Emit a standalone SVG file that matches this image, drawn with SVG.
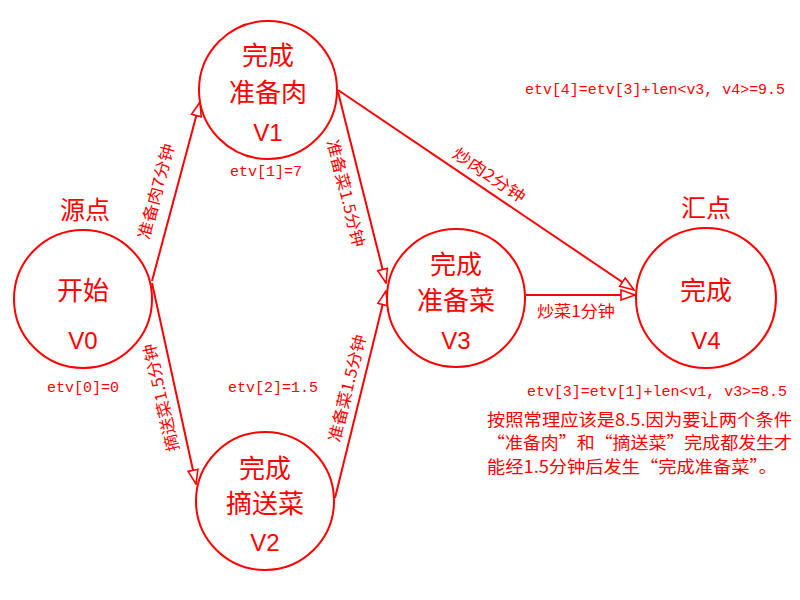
<svg xmlns="http://www.w3.org/2000/svg" width="800" height="600" viewBox="0 0 800 600">
<style>
text{fill:#ff0000;font-family:"Noto Sans CJK SC","Liberation Sans",sans-serif}
.c{fill:#fff;stroke:#ff0000;stroke-width:2}
.n{font-size:26px;text-anchor:middle;dominant-baseline:central}
.v{font-size:24px;text-anchor:middle;dominant-baseline:central;font-family:"Liberation Sans","Noto Sans CJK SC",sans-serif}
.t{font-size:25px;text-anchor:middle;dominant-baseline:central}
.e{font-size:16px;text-anchor:middle;dominant-baseline:central}
.m{font-size:15px;font-family:"Liberation Mono","Noto Sans CJK SC",monospace;dominant-baseline:central}
.p{font-size:17px;dominant-baseline:central}
.l{stroke:#ff0000;stroke-width:2;fill:none}
</style>
<defs>
<marker id="a" markerUnits="userSpaceOnUse" markerWidth="16" markerHeight="12" refX="15" refY="6" orient="auto">
<path d="M1,1 L15,6 L1,11 z" fill="#fff" stroke="#ff0000" stroke-width="1.6"/>
</marker>
</defs>
<g id="edges">
<line class="l" x1="152" y1="281" x2="200" y2="102" marker-end="url(#a)"/>
<line class="l" x1="152" y1="283" x2="196" y2="484" marker-end="url(#a)"/>
<line class="l" x1="338" y1="92" x2="386" y2="283" marker-end="url(#a)"/>
<line class="l" x1="335" y1="498" x2="386" y2="291" marker-end="url(#a)"/>
<line class="l" x1="338" y1="90" x2="634" y2="290" marker-end="url(#a)"/>
<line class="l" x1="526" y1="295" x2="635" y2="295" marker-end="url(#a)"/>
<text class="e" transform="translate(155,191) rotate(-75)" textLength="98" lengthAdjust="spacingAndGlyphs">准备肉7分钟</text>
<text class="e" transform="translate(160,398) rotate(-103)" textLength="110" lengthAdjust="spacingAndGlyphs">摘送菜1.5分钟</text>
<text class="e" transform="translate(347,193) rotate(75.7)" textLength="110" lengthAdjust="spacingAndGlyphs">准备菜1.5分钟</text>
<text class="e" transform="translate(346,388) rotate(-76)" textLength="110" lengthAdjust="spacingAndGlyphs">准备菜1.5分钟</text>
<text class="e" transform="translate(490,174) rotate(34)" textLength="84" lengthAdjust="spacingAndGlyphs">炒肉2分钟</text>
<text class="e" x="576" y="310" textLength="78" lengthAdjust="spacingAndGlyphs">炒菜1分钟</text>
</g>
<g id="V0">
<circle class="c" cx="83" cy="299" r="69"/>
<text class="t" x="85" y="208">源点</text>
<text class="n" x="83" y="288">开始</text>
<text class="v" x="83" y="340">V0</text>
</g>
<g id="V1">
<circle class="c" cx="268" cy="90" r="69"/>
<text class="n" x="268" y="53">完成</text>
<text class="n" x="268" y="90">准备肉</text>
<text class="v" x="268" y="132">V1</text>
</g>
<g id="V2">
<circle class="c" cx="265" cy="501" r="69"/>
<text class="n" x="265" y="466">完成</text>
<text class="n" x="265" y="501">摘送菜</text>
<text class="v" x="265" y="542">V2</text>
</g>
<g id="V3">
<circle class="c" cx="456" cy="298" r="69"/>
<text class="n" x="456" y="262">完成</text>
<text class="n" x="456" y="298">准备菜</text>
<text class="v" x="456" y="340">V3</text>
</g>
<g id="V4">
<circle class="c" cx="706" cy="298" r="70"/>
<text class="t" x="706" y="206">汇点</text>
<text class="n" x="706" y="288">完成</text>
<text class="v" x="706" y="340">V4</text>
</g>
<g id="notes">
<text class="m" x="47" y="388" textLength="72" lengthAdjust="spacingAndGlyphs">etv[0]=0</text>
<text class="m" x="230" y="172" textLength="72" lengthAdjust="spacingAndGlyphs">etv[1]=7</text>
<text class="m" x="228" y="388" textLength="90" lengthAdjust="spacingAndGlyphs">etv[2]=1.5</text>
<text class="m" x="525" y="90" textLength="260" lengthAdjust="spacingAndGlyphs">etv[4]=etv[3]+len&lt;v3, v4&gt;=9.5</text>
<text class="m" x="527" y="392" textLength="260" lengthAdjust="spacingAndGlyphs">etv[3]=etv[1]+len&lt;v1, v3&gt;=8.5</text>
<text class="p" x="487" y="418" textLength="305" lengthAdjust="spacingAndGlyphs">按照常理应该是8.5.因为要让两个条件</text>
<text class="p" x="487" y="441" textLength="305" lengthAdjust="spacingAndGlyphs">“准备肉”和“摘送菜”完成都发生才</text>
<text class="p" x="487" y="465" textLength="290" lengthAdjust="spacingAndGlyphs">能经1.5分钟后发生“完成准备菜”。</text>
</g>
</svg>
